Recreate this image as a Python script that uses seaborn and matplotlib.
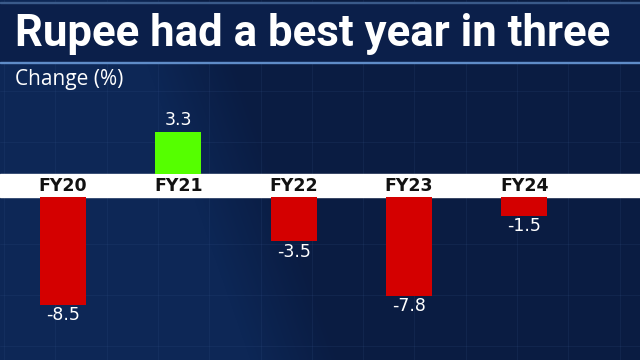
import numpy as np
import pandas as pd
import matplotlib
matplotlib.use("Agg")
import matplotlib.pyplot as plt
import seaborn as sns
from matplotlib.patches import Rectangle

categories = ["FY20", "FY21", "FY22", "FY23", "FY24"]
values = [-8.5, 3.3, -3.5, -7.8, -1.5]
title = "Rupee had a best year in three"
subtitle = "Change (%)"

sns.set_theme(style="white")
plt.rcParams['font.family'] = ['DejaVu Sans']

df = pd.DataFrame({"year": categories, "change": values})
df["sign"] = np.where(df["change"] >= 0, "pos", "neg")
palette = {"pos": "#55ff00", "neg": "#d40000"}

W, H = 640, 360
fig = plt.figure(figsize=(6.4, 3.6), dpi=100)

# background gradient
bg = fig.add_axes([0, 0, 1, 1], zorder=0)
yy, xx = np.mgrid[0:H, 0:W]
t = np.clip((xx + 0.35 * (H - yy) - 250) / 90.0, 0, 1)
c1 = np.array([0x0d, 0x27, 0x56]) / 255
c2 = np.array([0x0a, 0x1c, 0x42]) / 255
img = c1[None, None, :] * (1 - t[..., None]) + c2[None, None, :] * t[..., None]
bg.imshow(img, extent=[0, W, H, 0], aspect="auto")
bg.set_xlim(0, W)
bg.set_ylim(H, 0)
for gx in np.arange(4, W, 51.3):
    bg.axvline(gx, color="#3a5a90", lw=0.6, alpha=0.18)
for gy in np.arange(40, H, 51):
    bg.axhline(gy, color="#3a5a90", lw=0.6, alpha=0.18)
# title band
bg.add_patch(Rectangle((0, 2), W, 60, color="#0b1f4a", zorder=2))
bg.add_patch(Rectangle((0, 2), W, 1.2, color="#3a5a8a", zorder=3))
bg.add_patch(Rectangle((0, 61.5), W, 1.8, color="#5f8cc8", zorder=3))
# white separator band
bg.add_patch(Rectangle((0, 174), W, 23, color="white", zorder=3))
bg.axis("off")

bg.text(15, 34, title, color="white", fontsize=31.5, fontweight="bold",
        family=["Liberation Sans Narrow", "Roboto", "DejaVu Sans"],
        va="center", ha="left", zorder=4)
bg.text(15, 80, subtitle, color="white", fontsize=15,
        family=["Liberation Sans Narrow", "Open Sans", "DejaVu Sans"],
        va="center", ha="left", zorder=4)

scale = 12.7  # px per unit
xl = (-0.546, 5.004)

ax_top = fig.add_axes([0, (H - 174) / H, 1, 110 / H], zorder=2)
ax_bot = fig.add_axes([0, 0, 1, 163 / H], zorder=2)

for ax in (ax_top, ax_bot):
    sns.barplot(data=df, x="year", y="change", hue="sign", palette=palette,
                width=0.4, dodge=False, legend=False, saturation=1,
                linewidth=0, edgecolor="none", ax=ax)
    ax.set_xlim(*xl)
    ax.patch.set_alpha(0)
    for s in ax.spines.values():
        s.set_visible(False)
    ax.set_xlabel("")
    ax.set_ylabel("")
    ax.set_yticks([])

ax_top.set_ylim(0, 110 / scale)
ax_bot.set_ylim(-163 / scale, 0)

ax_top.set_xticks([])
ax_bot.xaxis.tick_top()
ax_bot.set_xticks(range(len(categories)))
ax_bot.set_xticklabels(categories, fontsize=12.5, fontweight="bold", color="#111111")
ax_bot.tick_params(axis="x", length=0, pad=1.5)

for cont in ax_top.containers:
    labels = [f"{v:.1f}" if v > 0 else "" for v in cont.datavalues]
    ax_top.bar_label(cont, labels=labels, padding=2, color="white", fontsize=12.5)
for cont in ax_bot.containers:
    labels = [f"{v:.1f}" if v < 0 else "" for v in cont.datavalues]
    ax_bot.bar_label(cont, labels=labels, padding=1, color="white", fontsize=12.5)

fig.savefig("out.png", dpi=100)
